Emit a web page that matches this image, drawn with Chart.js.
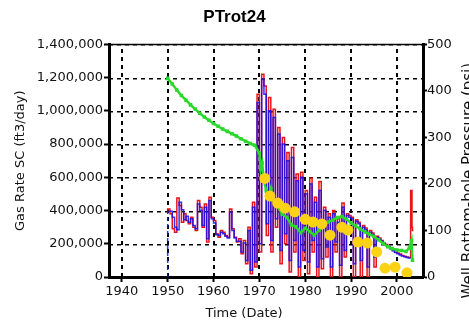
<!DOCTYPE html>
<html>
<head>
<meta charset="utf-8">
<script src="https://cdn.jsdelivr.net/npm/chart.js@4.4.0/dist/chart.umd.min.js"></script>
<style>
  html, body { margin: 0; padding: 0; background: #fff; }
</style>
</head>
<body>
<canvas id="chart" width="469" height="322"></canvas>
<script>
// gas rate, thousand ft3/day, one value every half year from 1950.0 to 2003.0
const rateStart = 1950;
const rateStep = 0.5;
const measuredRate = [
  390, 410, 380, 290, 270, 475, 430, 330, 380, 340,
  320, 360, 300, 280, 460, 420, 300, 440, 210, 480,
  360, 340, 260, 240, 280, 270, 250, 240, 410, 290,
  240, 210, 230, 140, 220, 80, 300, 20, 450, 60,
  1100, 150, 1220, 1150, 250, 1080, 150, 1010, 300, 900,
  80, 840, 200, 750, 30, 780, 150, 620, 0, 630,
  100, 520, 20, 595, 150, 480, 0, 575, 50, 420,
  120, 380, 0, 400, 150, 350, 0, 445, 120, 380,
  370, 360, 0, 345, 330, 0, 310, 295, 0, 280,
  265, 60, 245, 235, 220, 205, 195, 185, 175, 160,
  150, 145, 138, 130, 125, 120, 118
];
// last few measured values (after 2003)
const measuredTailYears = [2003.3, 2003.4, 2003.6];
const measuredTailRate = [520, 300, 280];

const simulatedRate = [
  0, 400, 395, 360, 300, 285, 450, 405, 345, 365,
  330, 350, 310, 290, 440, 400, 310, 420, 230, 460,
  350, 325, 255, 250, 270, 260, 245, 235, 390, 280,
  235, 215, 215, 150, 205, 100, 280, 40, 420, 90,
  1050, 200, 1190, 1100, 320, 1000, 220, 960, 350, 860,
  160, 800, 260, 700, 100, 720, 220, 580, 60, 600,
  160, 500, 90, 560, 220, 450, 60, 520, 110, 400,
  180, 360, 60, 380, 210, 330, 70, 420, 160, 370,
  360, 350, 80, 335, 320, 100, 300, 285, 60, 270,
  255, 120, 240, 228, 215, 200, 190, 180, 168, 158,
  148, 140, 133, 127, 122, 118, 115
];

// bottom-hole pressure, psi
const simPressureYears = [
  1950, 1951, 1952, 1953, 1954, 1955, 1956, 1957, 1958, 1959,
  1960, 1961, 1962, 1963, 1964, 1965, 1966, 1967, 1968, 1969,
  1970, 1970.3, 1970.6, 1971, 1971.5, 1972, 1972.5, 1973, 1974, 1975,
  1976, 1977, 1978, 1979, 1980, 1981, 1982, 1983, 1984, 1985,
  1986, 1987, 1988, 1989, 1990, 1991, 1992, 1993, 1994, 1995,
  1996, 1997, 1998, 1999, 2000, 2001, 2002, 2002.7, 2003.2, 2003.4
];
const simPressure = [
  427, 415, 402, 390, 380, 370, 361, 352, 344, 337,
  330, 324, 318, 313, 308, 303, 297, 292, 287, 283,
  266, 232, 245, 208, 185, 172, 190, 165, 152, 135,
  128, 112, 108, 95, 105, 98, 90, 100, 112, 118,
  122, 128, 130, 124, 116, 110, 103, 97, 92, 87,
  80, 72, 65, 61, 58, 57, 55, 62, 78, 36
];

const obsPressureYears = [
  1971.2, 1972.3, 1974, 1975.6, 1977.7, 1980, 1981.7, 1983.6, 1985.4,
  1988, 1989.3, 1991.5, 1993.5, 1995.6, 1997.4, 1999.6, 2002.2
];
const obsPressure = [
  212, 174, 159, 148, 140, 124, 118, 114, 90,
  107, 101, 75, 73, 54, 19, 21, 9
];

const yearTicks = [1940, 1950, 1960, 1970, 1980, 1990, 2000];

const measuredPts = measuredRate.map((v, i) => ({ x: rateStart + i * rateStep, y: v * 1000 }))
  .concat(measuredTailYears.map((x, i) => ({ x, y: measuredTailRate[i] * 1000 })));
const simulatedPts = simulatedRate.map((v, i) => ({ x: rateStart + i * rateStep, y: v * 1000 }));
const simPressurePts = simPressureYears.map((x, i) => ({ x, y: simPressure[i] }));
const obsPressurePts = obsPressureYears.map((x, i) => ({ x, y: obsPressure[i] }));

const tickFont = { family: 'DejaVu Sans', size: 13 };

// dashed grid drawn as small filled rectangles, whole pixels only
function drawGrid(chart) {
  const { ctx, chartArea: a, scales } = chart;
  const top = Math.round(a.top);
  const bottom = Math.round(a.bottom);
  const left = Math.round(a.left);
  const right = Math.round(a.right);
  ctx.save();
  ctx.fillStyle = '#000';
  scales.x.ticks.forEach((t, i) => {
    const px = Math.round(scales.x.getPixelForTick(i)) - 1;
    for (let y = bottom - 4; y > top; y -= 8) {
      const y0 = Math.max(top, y);
      ctx.fillRect(px, y0, 2, y + 4 - y0);
    }
  });
  scales.y.ticks.forEach(t => {
    const py = Math.round(scales.y.getPixelForValue(t.value));
    for (let x = left; x < right; x += 8) ctx.fillRect(x, py, Math.min(4, right - x), 1.5);
  });
  ctx.restore();
}

const grid = {
  id: 'grid',
  // just before the first dataset (the last one in the list) is drawn
  beforeDatasetDraw(chart, args) {
    if (args.index === chart.data.datasets.length - 1) drawGrid(chart);
  }
};

// top frame line and the two titles placed like the original
const extras = {
  id: 'extras',
  afterDraw(chart) {
    const { ctx, chartArea: a } = chart;
    ctx.save();
    ctx.strokeStyle = '#000';
    ctx.lineWidth = 1.5;
    ctx.beginPath();
    ctx.moveTo(a.left, a.top);
    ctx.lineTo(a.right, a.top);
    ctx.stroke();
    ctx.fillStyle = '#111';
    ctx.textAlign = 'center';
    ctx.textBaseline = 'middle';
    ctx.font = '13px "DejaVu Sans"';
    ctx.fillText('Time (Date)', (a.left + a.right) / 2 - 22, a.bottom + 37);
    ctx.translate(a.right + 46, (a.top + a.bottom) / 2 + 20);
    ctx.rotate(-Math.PI / 2);
    ctx.font = '15px "DejaVu Sans"';
    ctx.fillText('Well Bottom-hole Pressure (psi)', 0, 0);
    ctx.restore();
  }
};

new Chart(document.getElementById('chart'), {
  type: 'line',
  data: {
    datasets: [
      {
        label: 'Observed pressure',
        data: obsPressurePts,
        yAxisID: 'y2',
        showLine: false,
        pointRadius: 5.5,
        pointBackgroundColor: '#fcd215',
        pointBorderWidth: 0
      },
      {
        label: 'Simulated pressure',
        data: simPressurePts,
        yAxisID: 'y2',
        borderColor: '#2bd82b',
        borderWidth: 2.5,
        pointRadius: 2.5,
        pointStyle: 'rect',
        pointBackgroundColor: '#2bd82b',
        pointBorderWidth: 0
      },
      {
        label: 'Simulated gas rate',
        data: simulatedPts,
        yAxisID: 'y',
        borderColor: 'rgba(15, 15, 245, 0.85)',
        borderWidth: 1.5,
        stepped: 'after',
        pointRadius: 0,
        segment: { borderDash: ctx => ctx.p0DataIndex === 0 ? [4, 3] : undefined }
      },
      {
        label: 'Measured gas rate',
        data: measuredPts,
        yAxisID: 'y',
        borderColor: '#e8141c',
        borderWidth: 1.5,
        stepped: 'after',
        pointRadius: 0
      }
    ]
  },
  options: {
    responsive: false,
    animation: false,
    plugins: {
      legend: { display: false },
      tooltip: { enabled: false },
      title: {
        display: true,
        text: 'PTrot24',
        color: '#000',
        font: { family: 'Liberation Sans', size: 17, weight: 'bold' },
        padding: { top: 7, bottom: 17 }
      }
    },
    scales: {
      x: {
        type: 'linear',
        min: 1937.2,
        max: 2005.7,
        afterBuildTicks: s => { s.ticks = yearTicks.map(v => ({ value: v })); },
        afterFit: s => { s.height = 45; },
        ticks: { color: '#111', font: tickFont, padding: 2, maxRotation: 0, callback: v => String(v) },
        grid: { drawOnChartArea: false, tickLength: 5, tickColor: '#000', tickWidth: 2 },
        border: { color: '#000', width: 3 }
      },
      y: {
        position: 'left',
        min: 0,
        max: 1400000,
        afterFit: s => { s.width = 109; },
        ticks: { stepSize: 200000, color: '#111', font: tickFont, padding: 1, callback: v => v.toLocaleString('en-US') },
        grid: { drawOnChartArea: false, tickLength: 5, tickColor: '#000', tickWidth: 2 },
        border: { color: '#000', width: 3 },
        title: {
          display: true,
          text: 'Gas Rate SC (ft3/day)',
          color: '#111',
          font: { family: 'DejaVu Sans', size: 13 },
          padding: { top: 13, bottom: 0 }
        }
      },
      y2: {
        position: 'right',
        min: 0,
        max: 500,
        afterFit: s => { s.width = 46; },
        ticks: { stepSize: 100, color: '#111', font: tickFont, padding: 0 },
        grid: { drawOnChartArea: false, tickLength: 4, tickColor: '#000', tickWidth: 2 },
        border: { color: '#000', width: 3 }
      }
    }
  },
  plugins: [grid, extras]
});
</script>
</body>
</html>
